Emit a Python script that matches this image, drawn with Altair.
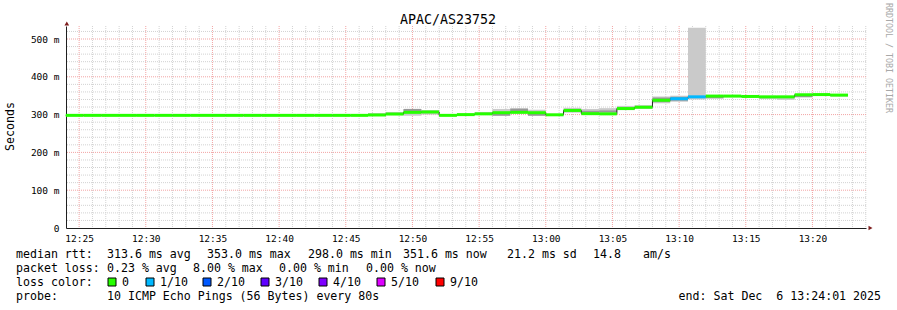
import altair as alt
import pandas as pd

# ---------------- data ----------------
title_text = "APAC/AS23752"
first_step_min = 24            # first 80 s step starts 12:24:00 (minutes after 12:00)
step_min = 80 / 60             # one probe round every 80 s
window_start = 24 + 1 / 60     # 12:24:01
window_end = 84 + 1 / 60       # 13:24:01
y_top = 534.4

median_ms = [298, 298, 298, 298, 298, 298, 298, 298, 298, 298, 298, 298, 298, 298, 298, 298, 298,
             299, 301.5, 306, 307, 298, 300, 302, 305, 306, 305, 299.5, 311, 302.5, 302, 316, 319.5,
             338, 342, 347, 349, 349, 348, 347, 347, 352.5, 353, 351.6]
smoke_lo = [297.5, 297.5, 297.5, 297.5, 297.5, 297.5, 297.5, 297.5, 297.5, 297.5, 297.5, 297.5, 297.5, 297.5, 297.5, 297.5, 297.5,
            297, 299, 297, 300, 297, 298, 299, 297, 303, 297, 298, 305, 300, 300, 312, 315,
            330, 334, 340, 343, 346, 346, 341, 339, 346, 351, 348]
smoke_hi = [298.5, 298.5, 298.5, 298.5, 298.5, 298.5, 298.5, 298.5, 298.5, 298.5, 298.5, 298.5, 298.5, 298.5, 298.5, 298.5, 298.5,
            304, 307, 315, 312, 299, 301, 307, 315, 316, 313, 300, 318, 315, 317, 323, 325,
            348, 350, 530, 351, 351, 350, 349, 349, 354, 354, 354]
core_lo = [298, 298, 298, 298, 298, 298, 298, 298, 298, 298, 298, 298, 298, 298, 298, 298, 298,
           298, 300, 308, 304, 298, 300, 302, 297, 308, 297, 299.5, 311, 305, 306, 316, 319.5,
           333, 337, 347, 343, 349, 348, 347, 347, 346, 353, 351.6]
core_hi = [298, 298, 298, 298, 298, 298, 298, 298, 298, 298, 298, 298, 298, 298, 298, 298, 298,
           301, 304, 315, 309, 298, 300, 302, 302, 316, 303, 299.5, 311, 310, 311, 316, 319.5,
           345, 347, 347, 347, 349, 348, 347, 347, 350, 353, 351.6]
loss = ["0", "0", "0", "0", "0", "0", "0", "0", "0", "0", "0", "0", "0", "0", "0", "0", "0",
        "0", "0", "0", "0", "0", "0", "0", "0", "0", "0", "0", "0", "0", "0", "0", "0",
        "0", "1/10", "1/10", "0", "0", "0", "0", "0", "0", "0", "0"]

loss_levels = ["0", "1/10", "2/10", "3/10", "4/10", "5/10", "9/10"]
loss_colors = ["#26ff00", "#00b8ff", "#0059ff", "#5e00ff", "#7e00ff", "#dd00ff", "#ff0000"]

x_tick_values = [25, 30, 35, 40, 45, 50, 55, 60, 65, 70, 75, 80]
x_tick_labels = ["12:25", "12:30", "12:35", "12:40", "12:45", "12:50", "12:55",
                 "13:00", "13:05", "13:10", "13:15", "13:20"]
y_tick_values = [0, 100, 200, 300, 400, 500]
y_tick_labels = ["0\u00a0\u00a0", "100 m", "200 m", "300 m", "400 m", "500 m"]

line1 = ["median rtt:", "313.6 ms avg", "353.0 ms max", "298.0 ms min", "351.6 ms now", "21.2 ms sd", "14.8", "am/s"]
line2 = ["packet loss:", "0.23 % avg", "8.00 % max", "0.00 % min", "0.00 % now"]
line3_label = "loss color:"
line4 = ["probe:", "10 ICMP Echo Pings (56 Bytes) every 80s"]
end_text = "end: Sat Dec \u00a06 13:24:01 2025"
watermark = "RRDTOOL / TOBI OETIKER"

# ---------------- tables ----------------
n = len(median_ms)
starts = [first_step_min + i * step_min for i in range(n)]
steps = pd.DataFrame({
    "start": starts,
    "end": [s + step_min for s in starts],
    "median": median_ms,
    "lo": smoke_lo, "hi": smoke_hi,
    "clo": core_lo, "chi": core_hi,
    "loss": loss,
})
step_line = pd.DataFrame({
    "t": starts + [starts[-1] + step_min],
    "v": median_ms + [median_ms[-1]],
})

minor_x = pd.DataFrame({"v": [m for m in range(25, 85) if m % 5 != 0]})
major_x = pd.DataFrame({"v": x_tick_values})
minor_y = pd.DataFrame({"v": [v for v in range(20, 540, 20) if v % 100 != 0]})
major_y = pd.DataFrame({"v": [v for v in y_tick_values if v > 0]})

OX, OY = 66, 26   # plot origin in page pixels
FONT = "DejaVu Sans Mono"
MINOR = "#d2d2d2"
MAJOR = "#f2a4a4"

xs = alt.Scale(domain=[window_start, window_end], nice=False, zero=False)
ys = alt.Scale(domain=[0, y_top], nice=False, zero=False)

x_axis = alt.Axis(values=x_tick_values, grid=False, tickSize=0, ticks=False,
                  labelExpr="%s[indexof(%s, datum.value)]" % (
                      "[" + ",".join("'%s'" % l for l in x_tick_labels) + "]",
                      "[" + ",".join(str(v) for v in x_tick_values) + "]"),
                  labelPadding=10, labelBaseline="middle", labelFont=FONT, labelFontSize=9.5,
                  labelColor="black", domainColor="#1f1f1f", domainWidth=1, title=None,
                  labelFlush=False, labelOverlap=False)
y_axis = alt.Axis(values=y_tick_values, grid=False, tickSize=0, ticks=False,
                  labelExpr="%s[indexof(%s, datum.value)]" % (
                      "[" + ",".join("'%s'" % l for l in y_tick_labels) + "]",
                      "[" + ",".join(str(v) for v in y_tick_values) + "]"),
                  labelPadding=7, labelBaseline="middle", labelFont=FONT, labelFontSize=9.5,
                  labelColor="black", domainColor="#1f1f1f", domainWidth=1, title=None,
                  labelFlush=False, labelOverlap=False)

grid_minor_x = alt.Chart(minor_x).mark_rule(color=MINOR, strokeWidth=1, strokeDash=[1, 1]).encode(
    x=alt.X("v:Q", scale=xs, axis=x_axis))
grid_major_x = alt.Chart(major_x).mark_rule(color=MAJOR, strokeWidth=1, strokeDash=[1, 1]).encode(
    x=alt.X("v:Q", scale=xs, axis=x_axis))
grid_minor_y = alt.Chart(minor_y).mark_rule(color=MINOR, strokeWidth=1, strokeDash=[1, 1]).encode(
    y=alt.Y("v:Q", scale=ys, axis=y_axis))
grid_major_y = alt.Chart(major_y).mark_rule(color=MAJOR, strokeWidth=1, strokeDash=[1, 1]).encode(
    y=alt.Y("v:Q", scale=ys, axis=y_axis))

smoke = alt.Chart(steps).mark_rect(color="#cacaca").encode(
    x=alt.X("start:Q", scale=xs, axis=x_axis), x2="end:Q",
    y=alt.Y("lo:Q", scale=ys, axis=y_axis), y2="hi:Q")
core = alt.Chart(steps).mark_rect(color="#989898").encode(
    x=alt.X("start:Q", scale=xs, axis=x_axis), x2="end:Q",
    y=alt.Y("clo:Q", scale=ys, axis=y_axis), y2="chi:Q")
black = alt.Chart(step_line).mark_line(interpolate="step-after", color="#202020", strokeWidth=1).encode(
    x=alt.X("t:Q", scale=xs, axis=x_axis), y=alt.Y("v:Q", scale=ys, axis=y_axis))
med = alt.Chart(steps).mark_rule(strokeWidth=3, strokeCap="butt").encode(
    x=alt.X("start:Q", scale=xs, axis=x_axis), x2="end:Q",
    y=alt.Y("median:Q", scale=ys, axis=y_axis),
    color=alt.Color("loss:N", scale=alt.Scale(domain=loss_levels, range=loss_colors), legend=None))

plot = alt.layer(grid_minor_x, grid_minor_y, grid_major_x, grid_major_y, smoke, core, black, med)

# ---------------- layout texts ----------------
rows = []
for t, px in zip(line1, [16, 107, 207, 308, 403, 507, 593, 643]):
    rows.append({"text": t, "px": px - OX, "py": 258 - OY})
for t, px in zip(line2, [16, 107, 193, 279, 366]):
    rows.append({"text": t, "px": px - OX, "py": 272 - OY})
rows.append({"text": line3_label, "px": 16 - OX, "py": 286 - OY})
sq_x = [108, 146, 203, 261, 319, 377, 436]
for t, px in zip(loss_levels, sq_x):
    rows.append({"text": t, "px": px + 14 - OX, "py": 286 - OY})
for t, px in zip(line4, [16, 107]):
    rows.append({"text": t, "px": px - OX, "py": 300 - OY})
legend_df = pd.DataFrame(rows)

legend_text = alt.Chart(legend_df).mark_text(align="left", baseline="alphabetic", font=FONT,
                                             fontSize=11.6, color="black").encode(
    x=alt.X("px:Q", scale=None, axis=None), y=alt.Y("py:Q", scale=None, axis=None), text="text:N")

end_df = pd.DataFrame({"text": [end_text], "px": [881 - OX], "py": [300 - OY]})
end_mark = alt.Chart(end_df).mark_text(align="right", baseline="alphabetic", font=FONT,
                                       fontSize=11.6, color="black").encode(
    x=alt.X("px:Q", scale=None, axis=None), y=alt.Y("py:Q", scale=None, axis=None), text="text:N")

sq_df = pd.DataFrame({"level": loss_levels, "x0": [v - OX for v in sq_x], "x1": [v + 8 - OX for v in sq_x],
                      "y0": [278 - OY] * 7, "y1": [286 - OY] * 7})
squares = alt.Chart(sq_df).mark_rect(stroke="black", strokeWidth=1).encode(
    x=alt.X("x0:Q", scale=None, axis=None), x2="x1:Q",
    y=alt.Y("y0:Q", scale=None, axis=None), y2="y1:Q",
    fill=alt.Fill("level:N", scale=alt.Scale(domain=loss_levels, range=loss_colors), legend=None))

title_df = pd.DataFrame({"text": [title_text], "px": [448 - OX], "py": [24 - OY]})
title_mark = alt.Chart(title_df).mark_text(align="center", baseline="alphabetic", font=FONT,
                                           fontSize=13.3, color="black").encode(
    x=alt.X("px:Q", scale=None, axis=None), y=alt.Y("py:Q", scale=None, axis=None), text="text:N")

ytitle_df = pd.DataFrame({"text": ["Seconds"], "px": [10.5 - OX], "py": [126.5 - OY]})
ytitle_mark = alt.Chart(ytitle_df).mark_text(align="center", baseline="middle", font=FONT,
                                             fontSize=11.6, angle=270, color="black").encode(
    x=alt.X("px:Q", scale=None, axis=None), y=alt.Y("py:Q", scale=None, axis=None), text="text:N")

wm_df = pd.DataFrame({"text": [watermark], "px": [888 - OX], "py": [58 - OY]})
wm_mark = alt.Chart(wm_df).mark_text(align="center", baseline="middle", font=FONT,
                                     fontSize=8.3, angle=90, color="#a8a8a8").encode(
    x=alt.X("px:Q", scale=None, axis=None), y=alt.Y("py:Q", scale=None, axis=None), text="text:N")

arrows_df = pd.DataFrame({"shape": ["triangle-up", "triangle-right"],
                          "px": [66.8 - OX, 870.5 - OX], "py": [23.5 - OY, 228 - OY]})
arrows = alt.Chart(arrows_df).mark_point(filled=True, size=22, color="#7f1f1f", opacity=1).encode(
    x=alt.X("px:Q", scale=None, axis=None), y=alt.Y("py:Q", scale=None, axis=None),
    shape=alt.Shape("shape:N", scale=None, legend=None))

chart = alt.layer(
    plot,
    arrows, title_mark, ytitle_mark, wm_mark, legend_text, end_mark, squares,
).properties(
    width=800, height=202,
    autosize=alt.AutoSizeParams(type="none"),
    padding={"left": OX, "top": OY, "right": 897 - OX - 800, "bottom": 310 - OY - 202},
    background="white",
).configure_view(stroke=None)

chart.save("out.html", embed_options={"renderer": "svg", "actions": False})
